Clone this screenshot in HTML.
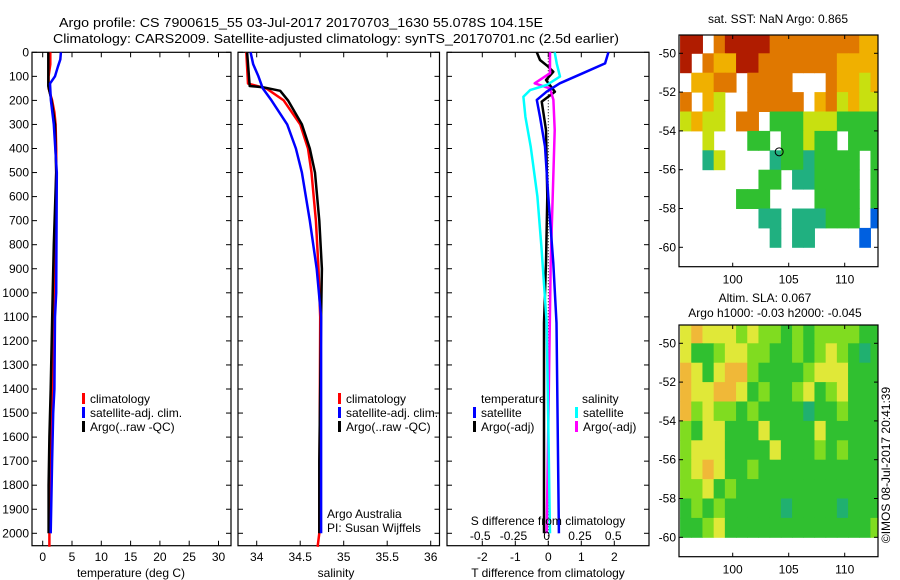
<!DOCTYPE html>
<html><head><meta charset="utf-8"><style>
html,body{margin:0;padding:0;background:#fff;}
svg{display:block;font-family:"Liberation Sans",sans-serif;}
text{font-size:12px;fill:#000;}
</style></head><body>
<svg id="c" width="900" height="580" viewBox="0 0 900 580" xmlns="http://www.w3.org/2000/svg">
<text x="59" y="27" textLength="484" lengthAdjust="spacingAndGlyphs" style="font-size:13px">Argo profile: CS 7900615_55 03-Jul-2017 20170703_1630 55.078S 104.15E</text>
<text x="53" y="43" textLength="566" lengthAdjust="spacingAndGlyphs" style="font-size:13px">Climatology: CARS2009. Satellite-adjusted climatology: synTS_20170701.nc (2.5d earlier)</text>
</svg>
<script>
// ---- data ----
const depthTicks = [0,100,200,300,400,500,600,700,800,900,1000,1100,1200,1300,1400,1500,1600,1700,1800,1900,2000];
const tempTicks = [0,5,10,15,20,25,30];
const salTicks = [34,34.5,35,35.5,36];
const salTickLabels = ["34","34.5","35","35.5","36"];
const dTTicks = [-2,-1,0,1,2];
const dSTicks = [-0.5,-0.25,0,0.25,0.5];
const dSTickLabels = ["-0.5","-0.25","0","0.25","0.5"];

const tClimDepth = [0,50,100,150,200,250,300,400,500,700,1000,1500,2000,2056];
const tClimVal   = [1.3,1.3,1.0,1.0,1.6,2.0,2.2,2.3,2.3,2.2,1.9,1.6,1.15,1.15];
const tSatDepth = [0,30,60,100,130,200,300,500,1000,1100,1400,1500,1700,2000];
const tSatVal   = [3.1,3.0,2.6,2.1,1.25,1.4,1.9,2.4,2.3,2.1,2.0,1.8,1.6,1.36];
const tArgoDepth = [0,140,200,300,500,800,1000,1400,1600,1800,2000];
const tArgoVal   = [0.96,0.96,1.5,2.1,2.3,1.9,1.7,1.36,1.15,1.0,1.0];

const sClimDepth = [0,130,150,200,300,400,500,700,900,1100,2000,2056];
const sClimVal   = [33.88,33.90,34.11,34.31,34.50,34.59,34.63,34.68,34.71,34.73,34.72,34.70];
const sSatDepth = [0,50,100,150,200,300,400,500,700,900,1100,2000];
const sSatVal   = [33.93,33.96,34.02,34.07,34.17,34.35,34.45,34.52,34.61,34.69,34.74,34.74];
const sArgoDepth = [0,140,145,160,200,300,400,500,700,900,1100,1700,2000];
const sArgoVal   = [33.89,33.92,34.07,34.27,34.36,34.52,34.61,34.67,34.72,34.75,34.74,34.72,34.72];

const dTSatDepth = [0,46,87,129,164,198,268,392,600,876,1125,2000];
const dTSatVal   = [1.82,1.72,1.05,0.35,-0.05,-0.35,-0.25,-0.1,0,0.15,0.25,0.32];
const dTArgoDepth = [0,32,60,81,115,164,205,323,600,876,1125,2000];
const dTArgoVal   = [-0.35,-0.25,0,0.15,-0.07,0.2,-0.2,-0.07,-0.03,-0.07,-0.13,-0.13];
const dSSatDepth = [0,46,101,136,157,185,268,392,600,808,1125,2000];
const dSSatVal   = [0.06,0.075,0.1,0,-0.125,-0.175,-0.16,-0.12,-0.07,-0.04,0,0.025];
const dSArgoDepth = [0,87,129,150,198,323,600,876,2000];
const dSArgoVal   = [0.025,0.025,-0.09,0.025,0.05,0.06,0.045,0.03,0];

const sstRows = [
"rr.orrrrooooooooyy",
"r.oyyrroooooooyyyy",
".yyoo.oooo...oyyly",
"o.yl..ooooo.yolyll",
"lyll.oo.ggglllgggg",
"..l...gg.gglgg.ggg",
"..tl....tggtgggg.g",
".......gg.ttgggg.g",
".....ggg....gggg.g",
".......tt.tttggg.b",
"........t.tt....b.",
".................."];
const slaRows = [
"yoyyygyggGgGggggGG",
"yGGgyyggGGgGgygGdG",
"oyGyoogGGGGgyyyGGG",
"oyyooyGgGGgyGgyGGG",
"ogyggGgGGGGdGGgGGG",
"gGyyGGGyGGGGyGGGGG",
"gyyyGGGGyGGGgGgGGG",
"gyoyGGgGGGGGGGGGGG",
"ggyGgGGGGGGGGGGGGG",
"GgGgGGGGGdGGGGdGGG",
"GGgyGGGGGGGGGGGGGg"];
const lonTicks = [100,105,110];
const latTicks = [-50,-52,-54,-56,-58,-60];

// ---- scales ----
const NS="http://www.w3.org/2000/svg";
const svg=document.getElementById('c');
const yD=d=>52.3+0.2405*d;
const xT=t=>42.7+5.86*t;
const xS=s=>256.7+87*(s-34);
const xdT=t=>548.3+33*t;
const xdS=s=>546.7+133*s;
const TOP=52.3, BOT=545.7;
function mk(tag,attrs,parent){const e=document.createElementNS(NS,tag);for(const k in attrs)e.setAttribute(k,attrs[k]);(parent||svg).appendChild(e);return e;}
function txt(x,y,s,anchor,parent){const e=mk('text',{x:x,y:y,'text-anchor':anchor||'start'},parent);e.textContent=s;return e;}

function panel(name,x0,x1,topTicks,xf,showDepthLabels){
  const g=mk('g',{});
  
  
  const r=mk('rect',{x:x0,y:TOP,width:x1-x0,height:BOT-TOP,fill:'none',stroke:'#000','stroke-width':1.2},g);
  
  
  depthTicks.forEach(d=>{
    mk('line',{x1:x0,x2:x0+5,y1:yD(d),y2:yD(d),stroke:'#000'},g);
    mk('line',{x1:x1,x2:x1-5,y1:yD(d),y2:yD(d),stroke:'#000'},g);
    if(showDepthLabels){const t=txt(x0-3,yD(d)+4,String(d),'end',g);
      
      }
  });
  topTicks.forEach(v=>{
    mk('line',{x1:xf(v),x2:xf(v),y1:TOP,y2:TOP+5,stroke:'#000'},g);
    mk('line',{x1:xf(v),x2:xf(v),y1:BOT,y2:BOT-5,stroke:'#000'},g);
  });
  return g;
}
function line(name,depths,vals,xf,color,w,dash){
  const pts=depths.map((d,i)=>xf(vals[i]).toFixed(1)+','+yD(d).toFixed(1)).join(' ');
  const p=mk('polyline',{points:pts,fill:'none',stroke:color,'stroke-width':w||2.5,'stroke-linejoin':'round'});
  if(dash)p.setAttribute('stroke-dasharray',dash);
  
  
}
function legendRow(x,y,color,label,name){
  const r=mk('rect',{x:x,y:y-6,width:3,height:11,fill:color});
  
  
  const t=txt(x+8,y+4,label);
  
  
}

// Panel 1 temperature
panel('temperature-panel',32,231,tempTicks,xT,true);
tempTicks.forEach(v=>{const t=txt(xT(v),561,String(v),'middle');
  
  });
let t1=txt(131,577,'temperature (deg C)','middle');


line('temp-climatology',tClimDepth,tClimVal,xT,'#f00');
line('temp-argo',tArgoDepth,tArgoVal,xT,'#000');
line('temp-satellite-adj',tSatDepth,tSatVal,xT,'#00f');
legendRow(82,399,'#f00','climatology','legend-climatology-temp');
legendRow(82,413,'#00f','satellite-adj. clim.','legend-satellite-temp');
legendRow(82,427,'#000','Argo(..raw -QC)','legend-argo-temp');

// Panel 2 salinity
panel('salinity-panel',238,439.5,salTicks,xS,false);
salTicks.forEach((v,i)=>{const t=txt(xS(v),561,salTickLabels[i],'middle');
  
  });
let t2=txt(336,577,'salinity','middle');


line('sal-climatology',sClimDepth,sClimVal,xS,'#f00');
line('sal-argo',sArgoDepth,sArgoVal,xS,'#000');
line('sal-satellite-adj',sSatDepth,sSatVal,xS,'#00f');
legendRow(338,399,'#f00','climatology','legend-climatology-sal');
legendRow(338,413,'#00f','satellite-adj. clim.','legend-satellite-sal');
legendRow(338,427,'#000','Argo(..raw -QC)','legend-argo-sal');
let a1=txt(327,518,'Argo Australia');
let a2=txt(327,532,'PI: Susan Wijffels');

// Panel 3 differences
panel('difference-panel',447,649,dTTicks,xdT,false);
let zl=mk('line',{x1:xdT(0),x2:xdT(0),y1:TOP,y2:BOT,stroke:'#000','stroke-width':1,'stroke-dasharray':'1,2'});

line('dT-argo',dTArgoDepth,dTArgoVal,xdT,'#000');
line('dS-argo',dSArgoDepth,dSArgoVal,xdS,'#f0f');
line('dS-satellite',dSSatDepth,dSSatVal,xdS,'#0ff');
line('dT-satellite',dTSatDepth,dTSatVal,xdT,'#00f');
dTTicks.forEach(v=>{const t=txt(xdT(v),561,String(v),'middle');
  
  });
dSTicks.forEach((v,i)=>{const t=txt(xdS(v),540,dSTickLabels[i],'middle');
  
  });
let s1=txt(548,525,'S difference from climatology','middle');
let s2=txt(548,577,'T difference from climatology','middle');
let lt=txt(481,403,'temperature');
let ls=txt(582,403,'salinity');
legendRow(473,413,'#00f','satellite','legend-dT-satellite');
legendRow(473,427,'#000','Argo(-adj)','legend-dT-argo');
legendRow(575,413,'#0ff','satellite','legend-dS-satellite');
legendRow(575,427,'#f0f','Argo(-adj)','legend-dS-argo');

// Maps
const sstColors={r:'#b01c00',o:'#e07800',y:'#f0b000',l:'#c8e010',g:'#30c030',t:'#20b080',b:'#0060e0'};
const slaColors={G:'#30c030',g:'#80dc20',y:'#e0e838',o:'#f0b838',d:'#20b070'};
function map(name,top,bottom,rows,colors,lat50y){
  const left=679,right=878;
  const lonX=lon=>732.7+11.2*(lon-100);
  const latY=lat=>lat50y+19.4*(-50-lat);
  const g=mk('g',{});
  
  
  rows.forEach((row,ri)=>{
    for(let ci=0;ci<row.length;ci++){
      const c=colors[row[ci]]; if(!c) continue;
      const x0=Math.max(left,lonX(95.3+ci)), x1=Math.min(right,lonX(96.3+ci));
      const y0=Math.max(top,latY(-49-ri)), y1=latY(-50-ri);
      mk('rect',{x:x0,y:y0,width:x1-x0+0.5,height:y1-y0+0.5,fill:c},g);
    }
  });
  mk('rect',{x:left,y:top,width:right-left,height:bottom-top,fill:'none',stroke:'#000','stroke-width':1.2},g);
  lonTicks.forEach(v=>{
    mk('line',{x1:lonX(v),x2:lonX(v),y1:top,y2:top+4,stroke:'#000'},g);
    mk('line',{x1:lonX(v),x2:lonX(v),y1:bottom,y2:bottom-4,stroke:'#000'},g);
    const t=txt(lonX(v),bottom+17,String(v),'middle',g);
    
    
  });
  latTicks.forEach(v=>{
    mk('line',{x1:left,x2:left+4,y1:latY(v),y2:latY(v),stroke:'#000'},g);
    mk('line',{x1:right,x2:right-4,y1:latY(v),y2:latY(v),stroke:'#000'},g);
    const t=txt(left-3,latY(v)+4,String(v),'end',g);
    
    
  });
  return {lonX,latY};
}
const m1=map('sst-map',35,266.7,sstRows,sstColors,53.3);
const mk1=mk('circle',{cx:m1.lonX(104.15),cy:m1.latY(-55.078),r:4,fill:'none',stroke:'#000'});

map('sla-map',325,556.7,slaRows,slaColors,343.3);
let m1t=txt(778,23,'sat. SST: NaN Argo: 0.865','middle');
let m2t=txt(765,302,'Altim. SLA: 0.067','middle');
let m2u=txt(775,317,'Argo h1000: -0.03 h2000: -0.045','middle');
let cr=txt(0,0,'©IMOS 08-Jul-2017 20:41:39','middle');
cr.setAttribute('transform','translate(890,465) rotate(-90)');


</script>
</body></html>
